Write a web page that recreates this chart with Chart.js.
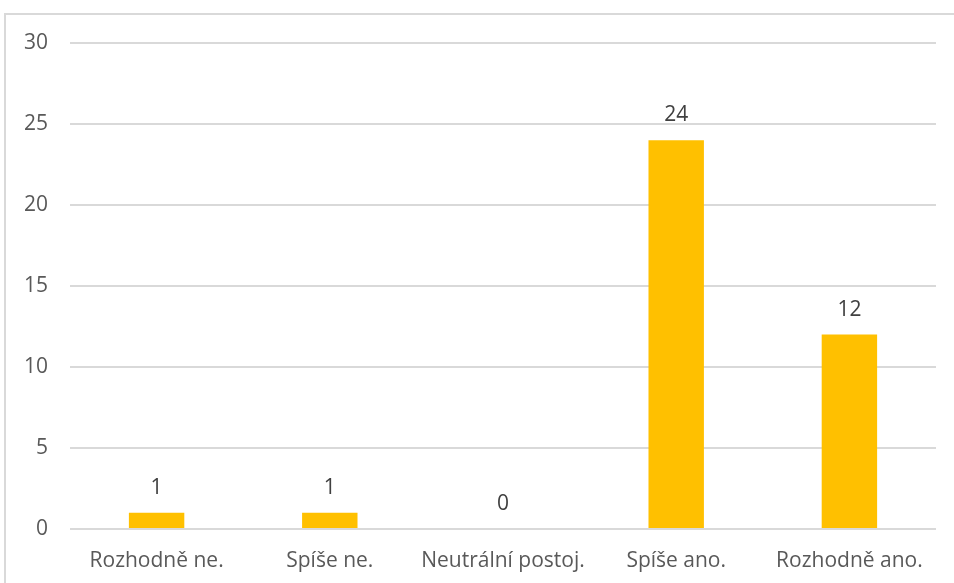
<!DOCTYPE html>
<html>
<head>
<meta charset="utf-8">
<script src="https://cdn.jsdelivr.net/npm/chart.js@4.4.0/dist/chart.umd.min.js"></script>
<style>
    html, body { margin: 0; padding: 0; background: #fff; }
    #frame {
        position: absolute;
        left: 4px;
        top: 13px;
        width: 960px;
        height: 600px;
        border-top: 2px solid #D9D9D9;
        border-left: 2px solid #D9D9D9;
    }
    #wrap { position: absolute; left: 0; top: 0; width: 954px; height: 583px; }
</style>
</head>
<body>
<div id="frame"></div>
<div id="wrap"><canvas id="chart"></canvas></div>
<script>
// Chart data
const categories = ['Rozhodně ne.', 'Spíše ne.', 'Neutrální postoj.', 'Spíše ano.', 'Rozhodně ano.'];
const counts = [1, 1, 0, 24, 12];
const yTicks = [0, 5, 10, 15, 20, 25, 30];

const fontFamily = '"Open Sans", sans-serif';

// Draw the value above each bar
const valueLabels = {
    id: 'valueLabels',
    afterDatasetsDraw(chart) {
        const ctx = chart.ctx;
        const meta = chart.getDatasetMeta(0);
        ctx.save();
        ctx.font = '21px ' + fontFamily;
        ctx.fillStyle = '#404040';
        ctx.textAlign = 'center';
        ctx.textBaseline = 'middle';
        meta.data.forEach(function(bar, i) {
            ctx.fillText(String(counts[i]), bar.x, bar.y - 25);
        });
        ctx.restore();
    }
};

function initChart() {
    const ctx = document.getElementById('chart').getContext('2d');
    new Chart(ctx, {
        type: 'bar',
        data: {
            labels: categories,
            datasets: [{
                data: counts,
                backgroundColor: '#FFC000',
                borderWidth: 0,
                barPercentage: 0.32,
                categoryPercentage: 1
            }]
        },
        options: {
            responsive: true,
            maintainAspectRatio: false,
            animation: false,
            layout: { padding: { top: 43, right: 18, left: 0, bottom: 0 } },
            plugins: {
                legend: { display: false },
                tooltip: { enabled: false }
            },
            scales: {
                x: {
                    grid: { display: false, drawTicks: false },
                    border: { display: false },
                    ticks: {
                        color: '#595959',
                        font: { family: fontFamily, size: 21 },
                        padding: 19
                    },
                    afterFit(axis) { axis.height = 54; }
                },
                y: {
                    min: 0,
                    max: yTicks[yTicks.length - 1],
                    afterBuildTicks(axis) {
                        axis.ticks = yTicks.map(v => ({ value: v }));
                    },
                    grid: { color: '#D9D9D9', lineWidth: 2, drawTicks: false },
                    border: { display: false },
                    ticks: {
                        color: '#595959',
                        font: { family: fontFamily, size: 21 },
                        padding: 22
                    },
                    afterFit(axis) { axis.width = 70; }
                }
            }
        },
        plugins: [valueLabels]
    });
}

initChart();
</script>
</body>
</html>
